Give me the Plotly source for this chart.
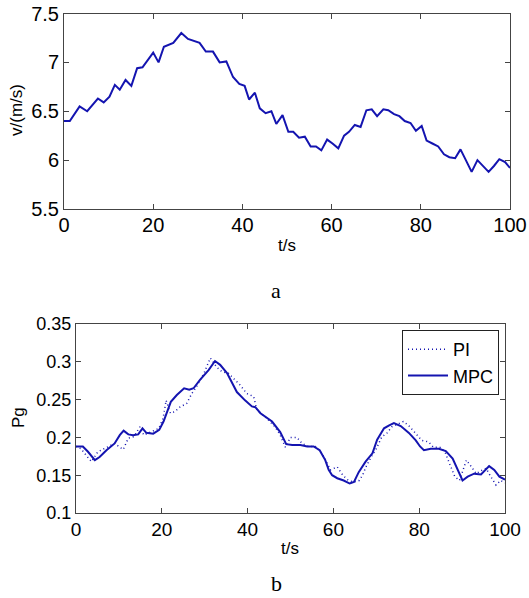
import plotly.graph_objects as go

# ---- data: wind speed (chart a) ----
t_v = [0, 1.3, 3.5, 5.2, 7.6, 8.9, 10.2, 11.4, 12.5, 13.8, 15.1, 16.4, 17.6, 20.0, 21.2, 22.4,
       24.5, 26.3, 27.8, 29.7, 30.4, 31.8, 33.4, 34.9, 36.4, 37.9, 39.3, 40.5, 41.5, 42.8, 43.9,
       45.2, 46.5, 47.6, 49.0, 50.3, 51.4, 52.7, 54.0, 55.3, 56.5, 57.7, 59.0, 60.2, 61.5, 62.8,
       63.9, 65.2, 66.5, 67.8, 69.0, 70.2, 71.6, 72.7, 74.0, 75.2, 76.4, 77.7, 78.9, 80.2, 81.3,
       82.6, 83.9, 85.2, 86.4, 87.7, 88.9, 90.1, 91.4, 92.7, 93.9, 95.2, 96.4, 97.6, 98.9, 100]
v = [6.40, 6.40, 6.55, 6.50, 6.63, 6.59, 6.65, 6.77, 6.72, 6.82, 6.76, 6.94, 6.95, 7.10, 7.00, 7.16,
     7.20, 7.30, 7.24, 7.21, 7.20, 7.11, 7.11, 7.00, 7.01, 6.85, 6.78, 6.76, 6.62, 6.69, 6.53,
     6.48, 6.50, 6.37, 6.46, 6.29, 6.29, 6.23, 6.24, 6.14, 6.14, 6.10, 6.21, 6.17, 6.12, 6.25,
     6.29, 6.36, 6.34, 6.51, 6.52, 6.45, 6.52, 6.51, 6.47, 6.45, 6.40, 6.38, 6.30, 6.35, 6.20,
     6.17, 6.14, 6.06, 6.03, 6.02, 6.11, 6.00, 5.88, 6.00, 5.94, 5.88, 5.94, 6.01, 5.98, 5.92]

# ---- data: power (chart b) ----
t_mpc = [0, 1.6, 2.8, 4.4, 5.5, 7.1, 9.0, 10.2, 11.1, 12.2, 13.3, 14.5, 15.5, 16.4, 18.0, 19.4,
         20.4, 21.1, 22.1, 23.5, 25.2, 26.4, 27.4, 28.9, 30.9, 32.4, 33.6, 35.2, 36.3, 37.5, 39.4,
         41.0, 41.8, 43.0, 45.7, 47.6, 49.0, 50.4, 52.3, 53.9, 55.4, 56.8, 58.1, 58.9, 59.7, 60.9,
         62.4, 63.8, 64.8, 65.9, 67.5, 69.1, 70.2, 71.8, 73.0, 74.1, 75.7, 77.6, 79.2, 80.2, 81.1,
         82.7, 84.6, 86.2, 87.8, 88.9, 90.1, 91.3, 92.8, 94.4, 96.3, 97.5, 98.7, 100]
p_mpc = [0.188, 0.188, 0.181, 0.170, 0.174, 0.183, 0.192, 0.203, 0.209, 0.204, 0.203, 0.204, 0.212,
         0.206, 0.205, 0.210, 0.221, 0.232, 0.247, 0.256, 0.265, 0.263, 0.265, 0.276, 0.289, 0.301,
         0.296, 0.285, 0.274, 0.260, 0.249, 0.241, 0.240, 0.232, 0.221, 0.207, 0.191, 0.190, 0.190,
         0.188, 0.188, 0.183, 0.170, 0.157, 0.150, 0.146, 0.143, 0.139, 0.141, 0.154, 0.168, 0.179,
         0.197, 0.212, 0.216, 0.219, 0.215, 0.206, 0.196, 0.188, 0.183, 0.185, 0.185, 0.182, 0.172,
         0.157, 0.143, 0.148, 0.152, 0.151, 0.162, 0.157, 0.148, 0.144]

t_pi = [0, 1.2, 2.4, 3.6, 5.1, 7.0, 9.0, 11.0, 12.2, 13.5, 14.9, 15.8, 17.5, 19.3, 20.3, 21.0,
        22.0, 23.0, 24.2, 25.8, 27.0, 28.1, 30.0, 31.3, 32.8, 34.0, 35.5, 36.8, 38.3, 39.8, 41.4,
        42.2, 44.5, 46.4, 47.6, 48.8, 50.0, 51.5, 52.7, 54.2, 55.8, 57.0, 58.2, 59.3, 60.9, 62.2,
        63.5, 64.8, 66.0, 66.8, 67.6, 68.8, 70.0, 71.3, 72.4, 73.6, 75.2, 76.3, 77.5, 79.1, 80.6,
        82.2, 83.3, 84.8, 86.0, 87.1, 88.3, 89.4, 91.0, 92.2, 93.3, 94.4, 95.6, 96.7, 97.9, 99.0, 100]
p_pi = [0.188, 0.185, 0.176, 0.168, 0.181, 0.186, 0.192, 0.184, 0.199, 0.201, 0.214, 0.203, 0.207,
        0.212, 0.225, 0.249, 0.232, 0.234, 0.240, 0.245, 0.258, 0.267, 0.287, 0.305, 0.293, 0.287,
        0.285, 0.278, 0.269, 0.258, 0.254, 0.236, 0.225, 0.214, 0.203, 0.187, 0.200, 0.200, 0.192,
        0.188, 0.188, 0.181, 0.170, 0.157, 0.161, 0.150, 0.143, 0.141, 0.143, 0.150, 0.161, 0.174,
        0.185, 0.201, 0.205, 0.214, 0.218, 0.221, 0.216, 0.205, 0.196, 0.194, 0.187, 0.187, 0.181,
        0.165, 0.148, 0.143, 0.170, 0.161, 0.152, 0.156, 0.159, 0.148, 0.137, 0.143, 0.140]

x_ticks = [0, 20, 40, 60, 80, 100]
v_ticks = [5.5, 6, 6.5, 7, 7.5]
v_ticklabels = ["5.5", "6", "6.5", "7", "7.5"]
p_ticks = [0.1, 0.15, 0.2, 0.25, 0.3, 0.35]
p_ticklabels = ["0.1", "0.15", "0.2", "0.25", "0.3", "0.35"]

W, H = 529, 598
BLUE = "#1414b0"
AXC = "#444444"

fig = go.Figure()
fig.add_trace(go.Scatter(x=t_v, y=v, mode="lines", line=dict(color=BLUE, width=2),
                         showlegend=False, xaxis="x", yaxis="y"))
fig.add_trace(go.Scatter(x=t_pi, y=p_pi, mode="lines", name="PI",
                         line=dict(color=BLUE, width=1.5, dash="1px,3px"), xaxis="x2", yaxis="y2"))
fig.add_trace(go.Scatter(x=t_mpc, y=p_mpc, mode="lines", name="MPC",
                         line=dict(color=BLUE, width=2), xaxis="x2", yaxis="y2"))


def px_x(a, b):
    return [a / W, b / W]


def px_y(top, bottom):
    return [1 - bottom / H, 1 - top / H]


def pt(x, y):
    return x / W, 1 - y / H


def axis_style(size):
    return dict(showline=True, linecolor=AXC, linewidth=1, mirror="ticks", ticks="inside",
                ticklen=5, tickcolor=AXC, showgrid=False, zeroline=False, automargin=False,
                ticklabeloverflow="allow",
                tickfont=dict(family="Liberation Sans, Arial", size=size, color="#000"))


lx, ly = pt(499, 330)
fig.update_layout(
    width=W, height=H, template="none",
    margin=dict(l=0, r=0, t=0, b=0),
    paper_bgcolor="white", plot_bgcolor="white",
    xaxis=dict(domain=px_x(64, 510), range=[0, 100], tickvals=x_ticks, anchor="y",
               ticklabelstandoff=-2, **axis_style(20)),
    yaxis=dict(domain=px_y(13.5, 209), range=[5.5, 7.5], tickvals=v_ticks, ticktext=v_ticklabels,
               anchor="x", **axis_style(20)),
    xaxis2=dict(domain=px_x(76, 505), range=[0, 100], tickvals=x_ticks, anchor="y2",
                ticklabelstandoff=-1, **axis_style(19)),
    yaxis2=dict(domain=px_y(324, 513), range=[0.1, 0.35], tickvals=p_ticks, ticktext=p_ticklabels,
                anchor="x2", **axis_style(18)),
    legend=dict(x=lx, y=ly, xanchor="right", yanchor="top",
                bordercolor="#222", borderwidth=1, bgcolor="white",
                font=dict(family="Liberation Sans, Arial", size=18, color="#000"),
                tracegroupgap=0, itemwidth=40),
    showlegend=True,
)

lab_font = dict(family="Liberation Sans, Arial", size=17, color="#000")
ser_font = dict(family="Liberation Serif, Times New Roman", size=22, color="#000")
for (x, y, txt, ang, f) in [(287, 245, "t/s", 0, lab_font), (290, 548, "t/s", 0, lab_font),
                            (16, 110, "v/(m/s)", -90, lab_font), (18, 418, "Pg", -90, lab_font),
                            (276, 290, "a", 0, ser_font), (276, 583, "b", 0, ser_font)]:
    ax_, ay_ = pt(x, y)
    fig.add_annotation(x=ax_, y=ay_, xref="paper", yref="paper", text=txt,
                       xanchor="center", yanchor="middle",
                       showarrow=False, textangle=ang, font=f)

# remove the default 8px page margin so the figure fills the window exactly
fig.write_html("out.html", config={"displayModeBar": False},
               post_script="document.body.style.margin='0';document.body.style.overflow='hidden';")
